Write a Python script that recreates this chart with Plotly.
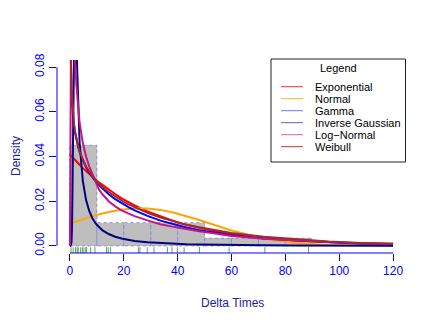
import plotly.graph_objects as go

# Histogram bins (left edges, width 10) and densities
bin_left = [0, 10, 20, 30, 40, 50, 60, 70, 80]
bin_height = [0.045, 0.0104, 0.0104, 0.0104, 0.0104, 0.0034, 0.0034, 0.0034, 0.0034]
bin_width = 10

# Observed delta times (rug)
rug_x = [0.4, 1.2, 2.1, 2.7, 3.1, 4.0, 4.6, 5.2, 5.9, 6.2, 7.7, 9.3,
         13.6, 14.2, 15.1, 25.4, 26.0, 28.7, 31.2, 36.2, 37.9, 39.9,
         42.4, 48.1, 59.1, 72.4, 88.6]

# Fitted densities
x_grid = [0, 0.1, 0.2, 0.4, 0.6, 0.8, 1.0, 1.4, 1.8, 2.4, 3.0, 3.6, 4.8, 6.0,
          7.2, 8.4, 9.6, 10.8, 12, 14.4, 16.8, 19.2, 21.6, 24, 28.8, 33.6,
          38.4, 43.2, 48, 54, 60, 72, 84, 96, 108, 120]
exp_y = [0.0410, 0.0409, 0.0408, 0.0404, 0.0402, 0.0399, 0.0396, 0.0391, 0.0385,
         0.0378, 0.0370, 0.0363, 0.0348, 0.0334, 0.0321, 0.0308, 0.0296, 0.0284,
         0.0273, 0.0251, 0.0232, 0.0213, 0.0197, 0.0181, 0.0154, 0.0131, 0.0111,
         0.0094, 0.0080, 0.0065, 0.0053, 0.0035, 0.0024, 0.0016, 0.0010, 0.0007]
norm_y = [0.0100, 0.0100, 0.0101, 0.0102, 0.0102, 0.0103, 0.0104, 0.0105, 0.0107,
          0.0110, 0.0112, 0.0114, 0.0119, 0.0124, 0.0128, 0.0132, 0.0137, 0.0141,
          0.0145, 0.0152, 0.0157, 0.0162, 0.0166, 0.0168, 0.0167, 0.0161, 0.0149,
          0.0134, 0.0116, 0.0092, 0.0069, 0.0033, 0.0013, 0.0004, 0.0001, 0.0000]
gamma_y = [None, 0.1001, 0.0859, 0.0737, 0.0672, 0.0628, 0.0595, 0.0548, 0.0513,
           0.0474, 0.0445, 0.0420, 0.0382, 0.0352, 0.0328, 0.0307, 0.0288, 0.0272,
           0.0257, 0.0231, 0.0209, 0.0190, 0.0174, 0.0159, 0.0134, 0.0113, 0.0096,
           0.0082, 0.0070, 0.0058, 0.0048, 0.0033, 0.0023, 0.0016, 0.0011, 0.0008]
invgauss_y = [0, 0, 0, 0.0005, 0.002, 0.010, 0.035, 0.090, 0.115, 0.090, 0.062,
              0.046, 0.029, 0.0205, 0.0155, 0.0122, 0.0099, 0.0083, 0.0070, 0.0053,
              0.0041, 0.0033, 0.0027, 0.0022, 0.0016, 0.0012, 0.0009, 0.0007, 0.0006,
              0.00045, 0.00035, 0.00022, 0.00015, 0.0001, 0.00007, 0.00005]
lognorm_y = [0, 0.035, 0.095, 0.140, 0.140, 0.128, 0.117, 0.099, 0.086, 0.072,
             0.062, 0.055, 0.046, 0.040, 0.0355, 0.0318, 0.0280, 0.0252, 0.0232,
             0.0200, 0.0177, 0.0159, 0.0145, 0.0133, 0.0114, 0.0097, 0.0085,
             0.0074, 0.0065, 0.0055, 0.0044, 0.0032, 0.0023, 0.0017, 0.0012, 0.0009]
weibull_y = [None, 0.125, 0.100, 0.081, 0.072, 0.066, 0.062, 0.056, 0.052, 0.048,
             0.045, 0.0423, 0.0384, 0.0355, 0.0331, 0.0311, 0.0294, 0.0279, 0.0265,
             0.0241, 0.0221, 0.0203, 0.0187, 0.0173, 0.0148, 0.0127, 0.0110,
             0.0095, 0.0083, 0.0069, 0.0058, 0.0041, 0.0029, 0.0019, 0.0013, 0.0009]

legend_names = ["Exponential", "Normal", "Gamma", "Inverse Gaussian", "Log\u2212Normal", "Weibull"]
curve_colors = ["#FF0000", "#FFA500", "#0000FF", "#000080", "#C71585", "#A52A2A"]
legend_colors = ["#FF3030", "#FFB030", "#7878FF", "#6060C0", "#E060B0", "#C03838"]

FONT = "Liberation Sans, Arial, sans-serif"
X_RANGE = [-4.8, 124.8]
Y_RANGE = [-0.0032, 0.0832]

# the page body adds an 8px offset, so the margins are pulled in by 8
ML, MT, PW, PH = 49, 52, 349, 193

fig = go.Figure()

# histogram fill
fig.add_trace(go.Bar(
    x=[b + bin_width / 2 for b in bin_left], y=bin_height, width=bin_width,
    marker=dict(color="#BEBEBE", line=dict(width=0)), hoverinfo="skip"
))

# dotted bar borders
ox, oy = [], []
for b, h in zip(bin_left, bin_height):
    ox += [b, b, b + bin_width, b + bin_width, b, None]
    oy += [0, h, h, 0, 0, None]
fig.add_trace(go.Scatter(x=ox, y=oy, mode="lines",
                         line=dict(color="#8C8CE8", width=1, dash="dot"), hoverinfo="skip"))

# density curves
for ys, col in zip([exp_y, norm_y, gamma_y, invgauss_y, lognorm_y, weibull_y], curve_colors):
    fig.add_trace(go.Scatter(x=x_grid, y=ys, mode="lines",
                             line=dict(color=col, width=2), connectgaps=False))

# rug
rug_top = Y_RANGE[0] + 0.03 * (Y_RANGE[1] - Y_RANGE[0])
rx, ry = [], []
for v in rug_x:
    rx += [v, v, None]
    ry += [Y_RANGE[0], rug_top, None]
fig.add_trace(go.Scatter(x=rx, y=ry, mode="lines", line=dict(color="#5FA35F", width=1)))


def px_to_paper(px, py):
    """Reference pixel position -> paper coordinates of the plot area."""
    return (px - 57) / PW, (253 - py) / PH


# axis lines only spanning the ticks (base R style)
shapes = [
    dict(type="line", xref="x", yref="paper", x0=0, x1=120, y0=0, y1=0,
         line=dict(color="#0000FF", width=1)),
    dict(type="line", xref="paper", yref="y", x0=0, x1=0, y0=0, y1=0.08,
         line=dict(color="#0000FF", width=1)),
]

# hand-made legend box
L, T = px_to_paper(271, 59)
R, B = px_to_paper(405.5, 162)
shapes.append(dict(type="rect", xref="paper", yref="paper", x0=L, x1=R, y0=B, y1=T,
                   line=dict(color="#222222", width=1), fillcolor="white"))
tx, ty = px_to_paper(338, 68)
annotations = [dict(text="Legend", xref="paper", yref="paper", x=tx, y=ty,
                    showarrow=False, xanchor="center", yanchor="middle", borderpad=0,
                    font=dict(family=FONT, size=11, color="black"))]
lx0, _ = px_to_paper(281, 0)
lx1, _ = px_to_paper(303, 0)
for i, (name, col) in enumerate(zip(legend_names, legend_colors)):
    txt_x, yy = px_to_paper(314, 86.7 + 12 * i)
    shapes.append(dict(type="line", xref="paper", yref="paper", x0=lx0, x1=lx1,
                       y0=yy, y1=yy, line=dict(color=col, width=1)))
    annotations.append(dict(text=name, xref="paper", yref="paper", x=txt_x, y=yy,
                            showarrow=False, xanchor="left", yanchor="middle", borderpad=0,
                            font=dict(family=FONT, size=11, color="black")))

# axis titles
dx, dy = px_to_paper(16, 156)
annotations.append(dict(text="Density", xref="paper", yref="paper", x=dx, y=dy,
                        textangle=-90, showarrow=False, xanchor="center", yanchor="middle",
                        borderpad=0,
                        font=dict(family=FONT, size=12, color="#1C1C9C")))
ax, ay = px_to_paper(232, 303)
annotations.append(dict(text="Delta Times", xref="paper", yref="paper", x=ax, y=ay,
                        showarrow=False, xanchor="center", yanchor="middle",
                        font=dict(family=FONT, size=12, color="#1C1C9C")))

fig.update_layout(
    width=436, height=327, autosize=False,
    margin=dict(l=ML, r=436 - ML - PW, t=MT, b=327 - MT - PH),
    plot_bgcolor="white", paper_bgcolor="white",
    showlegend=False, bargap=0,
    font=dict(family=FONT, size=12, color="#0000FF"),
    shapes=shapes, annotations=annotations,
    xaxis=dict(range=X_RANGE, tickvals=[0, 20, 40, 60, 80, 100, 120],
               ticks="outside", ticklen=7, tickcolor="#0000FF", tickwidth=1,
               showgrid=False, zeroline=False, showline=False, automargin=False,
               tickfont=dict(family=FONT, size=12, color="#0000FF")),
    yaxis=dict(range=Y_RANGE, tickvals=[0, 0.02, 0.04, 0.06, 0.08], tickformat=".2f",
               tickangle=-90, ticks="outside", ticklen=7, tickcolor="#0000FF", tickwidth=1,
               showgrid=False, zeroline=False, showline=False, automargin=False,
               tickfont=dict(family=FONT, size=12, color="#0000FF")),
)

fig.write_html("out.html")
